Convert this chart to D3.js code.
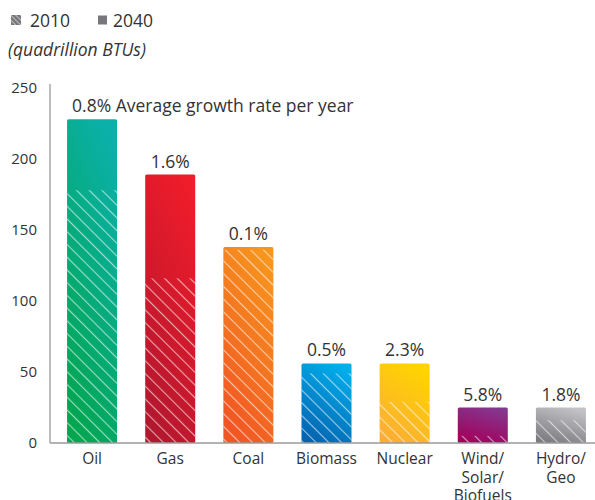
<!DOCTYPE html>
<html>
<head>
<meta charset="utf-8">
<script src="https://cdn.jsdelivr.net/npm/d3@7"></script>
<style>
  html, body { margin: 0; padding: 0; background: #fff; }
  svg { display: block; font-family: "Open Sans", "Noto Sans", sans-serif; }
</style>
</head>
<body>
<svg id="chart" width="595" height="500"></svg>
<script>
// Energy consumption by source, quadrillion BTUs
const categories = ["Oil", "Gas", "Coal", "Biomass", "Nuclear", "Wind/Solar/Biofuels", "Hydro/Geo"];
const categoryLines = [["Oil"], ["Gas"], ["Coal"], ["Biomass"], ["Nuclear"], ["Wind/", "Solar/", "Biofuels"], ["Hydro/", "Geo"]];
const values2010 = [178, 116, 136, 49, 29, 5, 16];
const values2040 = [228, 189, 138, 56, 56, 25, 25];
const growthLabels = ["0.8% Average growth rate per year", "1.6%", "0.1%", "0.5%", "2.3%", "5.8%", "1.8%"];
const yTicks = [0, 50, 100, 150, 200, 250];

// Per-bar gradient colours: [top/right, bottom/left]
const barColors = [
  ["#0bb0a9", "#00a650"],
  ["#ef1c2a", "#b3172e"],
  ["#f7951d", "#f05524"],
  ["#00aeeb", "#0364b0"],
  ["#ffd400", "#fbae33"],
  ["#84378f", "#a3005a"],
  ["#c3c3c7", "#7b7b80"]
];

const svg = d3.select("#chart");
const defs = svg.append("defs");

const x = d3.scaleBand().domain(categories).range([53, 600]).paddingInner(0.36).paddingOuter(0.18);
const y = d3.scaleLinear().domain([0, 250]).range([443, 88]);

// Gradients
barColors.forEach((c, i) => {
  const g = defs.append("linearGradient")
    .attr("id", "grad" + i)
    .attr("x1", "0.7").attr("y1", "0")
    .attr("x2", "0.3").attr("y2", "1");
  g.append("stop").attr("offset", "0%").attr("stop-color", c[0]);
  g.append("stop").attr("offset", "100%").attr("stop-color", c[1]);
});

// Diagonal hatch for the 2010 portion
const pat = defs.append("pattern")
  .attr("id", "hatch")
  .attr("patternUnits", "userSpaceOnUse")
  .attr("width", 9).attr("height", 9)
  .attr("patternTransform", "rotate(-45)");
pat.append("line")
  .attr("x1", 0).attr("y1", 0).attr("x2", 0).attr("y2", 9)
  .attr("stroke", "#ffffff").attr("stroke-opacity", 0.62).attr("stroke-width", 2.2);

// Legend hatch (grey)
const lpat = defs.append("pattern")
  .attr("id", "lhatch")
  .attr("patternUnits", "userSpaceOnUse")
  .attr("width", 3.5).attr("height", 3.5)
  .attr("patternTransform", "rotate(-45)");
lpat.append("rect").attr("width", 3.5).attr("height", 3.5).attr("fill", "#7a7a7e");
lpat.append("line")
  .attr("x1", 0).attr("y1", 0).attr("x2", 0).attr("y2", 3.5)
  .attr("stroke", "#d8d8d8").attr("stroke-width", 1.4);

// Legend
const legend = svg.append("g");
legend.append("rect").attr("x", 11).attr("y", 15).attr("width", 10).attr("height", 10).attr("fill", "url(#lhatch)");
legend.append("text").attr("x", 30).attr("y", 27).attr("font-size", 17.5).attr("fill", "#333").text("2010");
legend.append("rect").attr("x", 98).attr("y", 15.5).attr("width", 9).attr("height", 9).attr("fill", "#77777c");
legend.append("text").attr("x", 113).attr("y", 27).attr("font-size", 17.5).attr("fill", "#333").text("2040");
svg.append("text").attr("x", 8).attr("y", 56).attr("font-size", 17.5).attr("font-style", "italic")
  .attr("fill", "#333").text("(quadrillion BTUs)");

// Y axis
const yAxis = svg.append("g").attr("transform", "translate(50,0)")
  .call(d3.axisLeft(y).tickValues(yTicks).tickSize(0).tickPadding(13));
yAxis.select(".domain").attr("stroke", "#9a9a9a").attr("stroke-width", 1.3)
  .attr("d", `M0,${y(250) - 4}V${y(0)}`);
yAxis.selectAll("text").attr("font-size", 15).attr("fill", "#333")
  .attr("font-family", "'Open Sans', 'Noto Sans', sans-serif");

// Bars: 2040 total
const bars = svg.append("g");
bars.selectAll("rect.total")
  .data(categories)
  .join("rect")
  .attr("class", "total")
  .attr("x", d => x(d))
  .attr("y", (d, i) => y(values2040[i]))
  .attr("width", x.bandwidth())
  .attr("height", (d, i) => y(0) - y(values2040[i]))
  .attr("rx", 1.5)
  .attr("fill", (d, i) => `url(#grad${i})`);

// Hatched overlay: 2010
bars.selectAll("rect.base")
  .data(categories)
  .join("rect")
  .attr("class", "base")
  .attr("x", d => x(d))
  .attr("y", (d, i) => y(values2010[i]))
  .attr("width", x.bandwidth())
  .attr("height", (d, i) => y(0) - y(values2010[i]))
  .attr("fill", "url(#hatch)");

// Growth rate labels
svg.append("g").selectAll("text")
  .data(categories)
  .join("text")
  .attr("x", (d, i) => i === 0 ? x(d) + 5 : x(d) + x.bandwidth() / 2)
  .attr("y", (d, i) => y(values2040[i]) - 7)
  .attr("text-anchor", (d, i) => i === 0 ? "start" : "middle")
  .attr("font-size", 17.5)
  .attr("fill", "#333")
  .text((d, i) => growthLabels[i]);

// X axis baseline
svg.append("line")
  .attr("x1", 50).attr("x2", 595)
  .attr("y1", y(0)).attr("y2", y(0))
  .attr("stroke", "#9a9a9a").attr("stroke-width", 1.3);

// Category labels
const cat = svg.append("g").selectAll("text")
  .data(categories)
  .join("text")
  .attr("text-anchor", "middle")
  .attr("font-size", 15.5)
  .attr("fill", "#333")
  .attr("transform", d => `translate(${x(d) + x.bandwidth() / 2},464)`);
cat.selectAll("tspan")
  .data((d, i) => categoryLines[i])
  .join("tspan")
  .attr("x", 0)
  .attr("dy", (d, j) => j === 0 ? 0 : 18.5)
  .text(d => d);
</script>
</body>
</html>
